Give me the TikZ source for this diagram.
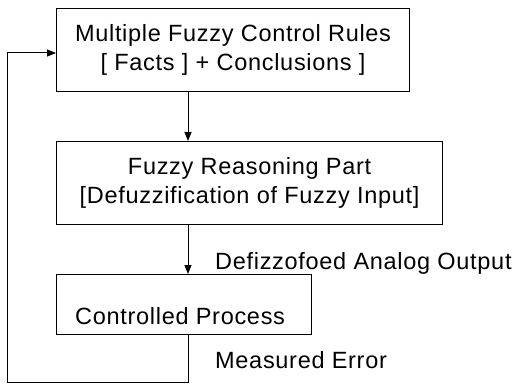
\documentclass[tikz,border=0pt]{standalone}
\usepackage{fontspec}
\setmainfont[LetterSpace=3]{Liberation Sans}
\usetikzlibrary{arrows.meta}
\begin{document}
\begin{tikzpicture}[x=1pt,y=-1pt,
  blk/.style={draw,line width=1.1pt},
  txt/.style={font=\fontsize{23.5}{29}\selectfont},
  lbl/.style={txt,inner sep=0pt,anchor=west},
  con/.style={line width=1pt,-{Triangle[length=9pt,width=7pt]}},
  ln/.style={line width=1pt}]
\useasboundingbox (0,0) rectangle (527,385);
\node[blk,txt,minimum width=353pt,minimum height=83pt,anchor=north west,align=center] (b1) at (56,8) {Multiple Fuzzy Control Rules\\{[} Facts ] + Conclusions ]};
\node[blk,txt,minimum width=386pt,minimum height=83pt,anchor=north west,align=center] (b2) at (56,141) {Fuzzy Reasoning Part\\{[}Defuzzification of Fuzzy Input]};
\node[blk,minimum width=255pt,minimum height=60pt,anchor=north west] (b3) at (56,274) {};
\node[lbl] (t3) at (75,316) {Controlled Process};
\node[lbl] (l1) at (215,263) {Defizzofoed Analog Output};
\node[lbl] (l2) at (215,360) {Measured Error};
\coordinate (c1) at (188,382);
\coordinate (c2) at (7,382);
\coordinate (c3) at (7,53);
\draw[con] (b1.south -| 188,0) -- (b2.north -| 188,0);
\draw[con] (b2.south -| 188,0) -- (b3.north -| 188,0);
\draw[ln] (b3.south -| 188,0) -- (c1) -- (c2) -- (c3);
\draw[con] (c3) -- (c3 -| b1.west);
\end{tikzpicture}
\end{document}
